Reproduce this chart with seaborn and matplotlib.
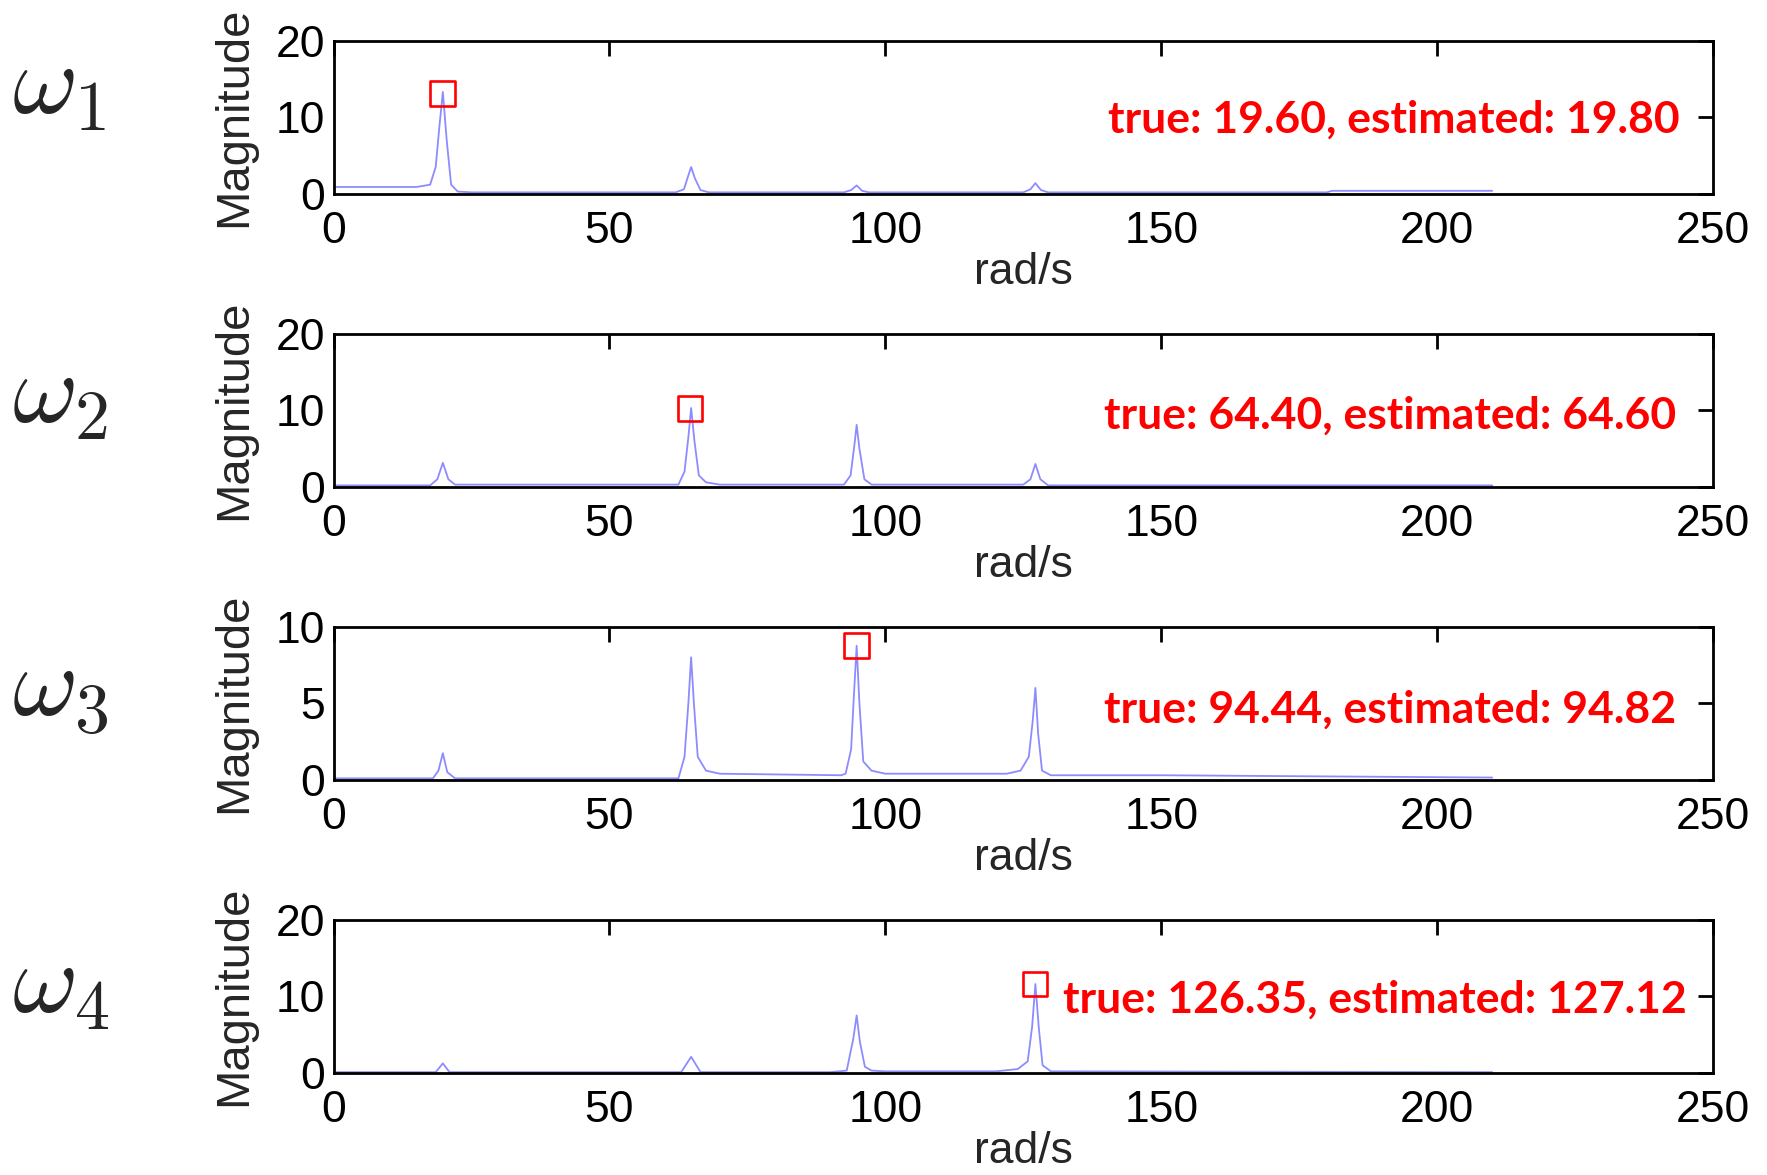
import matplotlib
matplotlib.use("Agg")
import matplotlib.pyplot as plt
import matplotlib.transforms as mtransforms
import seaborn as sns

# spectrum samples (rad/s, magnitude)
w1_x = [0, 15, 17.5, 18.5, 19.2, 19.8, 20.5, 21.3, 22.5, 25, 62, 63.5, 64.2, 64.8, 65.5, 66.5, 68,
        92.5, 93.8, 94.8, 95.8, 97, 125, 126.3, 127.2, 128.2, 129.5, 180, 181, 210]
w1_y = [0.9, 0.9, 1.2, 3.5, 9, 13.3, 7, 1.2, 0.3, 0.2, 0.2, 0.6, 2.2, 3.5, 2.0, 0.5, 0.2,
        0.2, 0.5, 1.1, 0.4, 0.2, 0.2, 0.6, 1.4, 0.5, 0.2, 0.2, 0.4, 0.4]

w2_x = [0, 17.5, 18.8, 19.8, 20.8, 22, 62.5, 63.6, 64.3, 64.8, 65.4, 66.2, 67.5, 70,
        92.5, 93.7, 94.4, 94.8, 95.3, 96.2, 97.5, 125, 126.3, 127.2, 128.1, 129.5, 210]
w2_y = [0.2, 0.2, 1.0, 3.15, 1.0, 0.3, 0.3, 2.0, 6.5, 10.3, 6.0, 1.5, 0.6, 0.3,
        0.3, 1.5, 5.5, 8.1, 5.0, 1.0, 0.3, 0.3, 1.0, 3.0, 1.0, 0.2, 0.2]

w3_x = [0, 18, 19.0, 19.8, 20.6, 22, 62.5, 63.6, 64.3, 64.8, 65.3, 66, 67.5, 70,
        92, 92.8, 93.8, 94.3, 94.8, 95.3, 96, 97.5, 100, 122, 124.5, 126.0, 126.7, 127.2,
        127.7, 128.4, 130, 150, 210]
w3_y = [0.1, 0.1, 0.6, 1.74, 0.5, 0.1, 0.1, 1.5, 5.0, 8.0, 5.0, 1.5, 0.6, 0.4,
        0.3, 0.4, 2.0, 5.5, 8.75, 5.0, 1.2, 0.6, 0.4, 0.4, 0.6, 1.5, 3.8, 6.0,
        3.0, 0.6, 0.3, 0.3, 0.15]

w4_x = [0, 18.5, 19.8, 21, 63, 64.8, 66.5, 90, 93, 94.2, 94.8, 95.4, 96.3, 97.5, 100,
        120, 124, 125.8, 126.6, 127.2, 127.8, 128.5, 130, 210]
w4_y = [0.1, 0.1, 1.24, 0.1, 0.1, 2.1, 0.1, 0.1, 0.3, 4.5, 7.5, 4.0, 0.8, 0.3, 0.2,
        0.2, 0.5, 1.5, 6.0, 11.6, 6.0, 1.0, 0.2, 0.1]

true_w = [19.60, 64.40, 94.44, 126.35]
est_w = [19.80, 64.60, 94.82, 127.12]
est_mag = [13.1, 10.2, 8.75, 11.6]
labels = [r'$\omega_1$', r'$\omega_2$', r'$\omega_3$', r'$\omega_4$']
xticks = [0, 50, 100, 150, 200, 250]
yticks_list = [[0, 10, 20], [0, 10, 20], [0, 5, 10], [0, 10, 20]]

series = [(w1_x, w1_y), (w2_x, w2_y), (w3_x, w3_y), (w4_x, w4_y)]

sns.set_style("white")
plt.rcParams['font.family'] = ['Liberation Sans', 'DejaVu Sans']
plt.rcParams['mathtext.fontset'] = 'cm'

fig = plt.figure(figsize=(17.67, 11.75), dpi=100)
bottoms = [0.835, 0.5856, 0.3363, 0.0869]
text_pos = [(243.9, 9.7), (243.3, 9.3), (243.3, 4.56), (245.3, 9.5)]
label_y = [0.925, 0.662, 0.413, 0.160]

for i, (xs, ys) in enumerate(series):
    ax = fig.add_axes([0.1888, bottoms[i], 0.7806, 0.1304])
    sns.lineplot(x=xs, y=ys, ax=ax, color='#8c8cff', linewidth=1.3, sort=False)
    sns.scatterplot(x=[est_w[i]], y=[est_mag[i]], ax=ax, marker='s', s=320,
                    facecolor='none', edgecolor='red', linewidth=1.9, zorder=5)
    ax.set_xlim(0, 250)
    yt = yticks_list[i]
    ax.set_ylim(yt[0], yt[-1])
    ax.set_xticks(xticks)
    ax.set_yticks(yt)
    ax.tick_params(direction='in', top=True, right=True, length=11, width=2,
                   labelsize=32, colors='black')
    ax.tick_params(axis='x', pad=12)
    ax.tick_params(axis='y', pad=6)
    for sp in ax.spines.values():
        sp.set_linewidth(2)
        sp.set_color('black')
    ax.set_xlabel('rad/s', fontsize=32)
    ax.set_ylabel('Magnitude', fontsize=34)
    ax.xaxis.set_label_coords(0.5, -0.38)
    ax.yaxis.set_label_coords(-0.056, 0.5)
    ax.text(text_pos[i][0], text_pos[i][1],
            f'true: {true_w[i]:.2f}, estimated: {est_w[i]:.2f}',
            color='red', fontsize=32, fontweight='bold', family=['Lato', 'DejaVu Sans'],
            ha='right', va='center')
    trans = mtransforms.blended_transform_factory(fig.transFigure, fig.transFigure)
    fig.text(0.007, label_y[i], labels[i], fontsize=72, ha='left', va='center',
             transform=trans)

fig.savefig('out.png', dpi=100)
